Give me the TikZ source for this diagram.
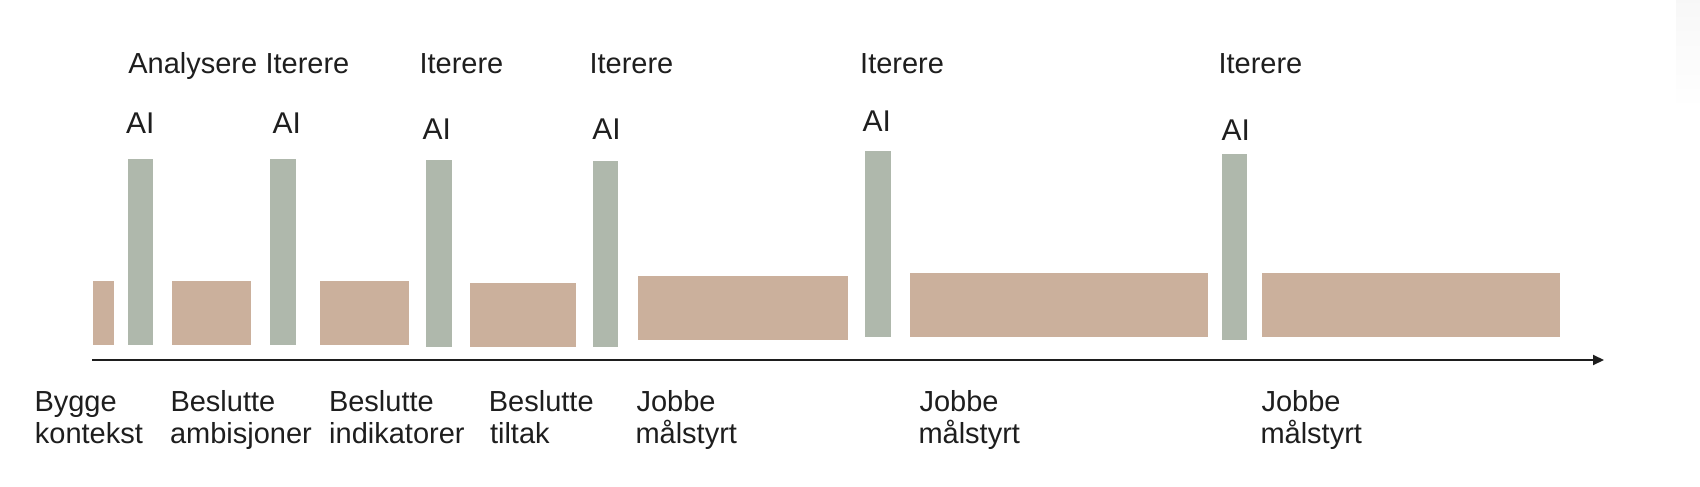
\documentclass[tikz,border=0pt]{standalone}
\usepackage{fontspec}
\setmainfont{Liberation Sans}
\usetikzlibrary{arrows.meta}
\definecolor{barbrown}{HTML}{CBB09C}
\definecolor{bargreen}{HTML}{AFB8AC}
\definecolor{inktext}{HTML}{1E1E1E}
\begin{document}
\begin{tikzpicture}[x=1pt,y=-1pt,
  lbl/.style={anchor=base west,inner sep=0pt,outer sep=0pt,text=inktext,font=\fontsize{29}{33}\selectfont},
  ailbl/.style={anchor=base west,inner sep=0pt,outer sep=0pt,text=inktext,font=\fontsize{30}{34}\selectfont},
  brownbar/.style={fill=barbrown},
  greenbar/.style={fill=bargreen}]
\useasboundingbox (0,0) rectangle (1700,487);
\fill[white] (0,0) rectangle (1700,487);
% faint edge shadow at right
\shade[top color=black!3, bottom color=white] (1676,0) rectangle (1700,110);
% brown bars
\fill[brownbar] (93,281) rectangle (114,345);
\fill[brownbar] (172,281) rectangle (251,345);
\fill[brownbar] (320,281) rectangle (408.5,345);
\fill[brownbar] (470,282.7) rectangle (576.4,347);
\fill[brownbar] (637.5,276) rectangle (848,340);
\fill[brownbar] (910,273.3) rectangle (1208.3,337.3);
\fill[brownbar] (1261.7,273.3) rectangle (1560.3,337.3);
% green bars
\fill[greenbar] (127.5,158.7) rectangle (153.2,345);
\fill[greenbar] (269.6,158.7) rectangle (295.7,345);
\fill[greenbar] (426.4,160.4) rectangle (451.8,347);
\fill[greenbar] (592.7,160.6) rectangle (618,347);
\fill[greenbar] (865.3,150.7) rectangle (891.3,337.3);
\fill[greenbar] (1222,153.8) rectangle (1247,340);
% axis
\coordinate (axstart) at (92,360);
\coordinate (axend) at (1604,360);
\draw[line width=2pt,draw=inktext,-{Triangle[length=11pt,width=10pt]}] (axstart) -- (axend);
% top labels
\node[lbl] (t1) at (128.3,73.3) {Analysere};
\node[lbl] (t2) at (265.5,73.3) {Iterere};
\node[lbl] (t3) at (419.5,73.3) {Iterere};
\node[lbl] (t4) at (589.5,73.3) {Iterere};
\node[lbl] (t5) at (860.2,73.3) {Iterere};
\node[lbl] (t6) at (1218.5,73.3) {Iterere};
% AI labels
\node[ailbl] (a1) at (126,133.3) {AI};
\node[ailbl] (a2) at (272.7,133.3) {AI};
\node[ailbl] (a3) at (422.7,139.3) {AI};
\node[ailbl] (a4) at (592.3,139.3) {AI};
\node[ailbl] (a5) at (862.7,131.7) {AI};
\node[ailbl] (a6) at (1221.7,140) {AI};
% bottom labels
\node[lbl] (b1a) at (34.5,411.7) {Bygge};
\node[lbl] (b1b) at (34.9,443.5) {kontekst};
\node[lbl] (b2a) at (170.5,411.7) {Beslutte};
\node[lbl] (b2b) at (170.0,443.5) {ambisjoner};
\node[lbl] (b3a) at (329.0,411.7) {Beslutte};
\node[lbl] (b3b) at (329.2,443.5) {indikatorer};
\node[lbl] (b4a) at (488.9,411.7) {Beslutte};
\node[lbl] (b4b) at (490.0,443.5) {tiltak};
\node[lbl] (b5a) at (636.5,411.7) {Jobbe};
\node[lbl] (b5b) at (635.5,443.5) {målstyrt};
\node[lbl] (b6a) at (919.5,411.7) {Jobbe};
\node[lbl] (b6b) at (918.5,443.5) {målstyrt};
\node[lbl] (b7a) at (1261.5,411.7) {Jobbe};
\node[lbl] (b7b) at (1260.5,443.5) {målstyrt};
\end{tikzpicture}
\end{document}
